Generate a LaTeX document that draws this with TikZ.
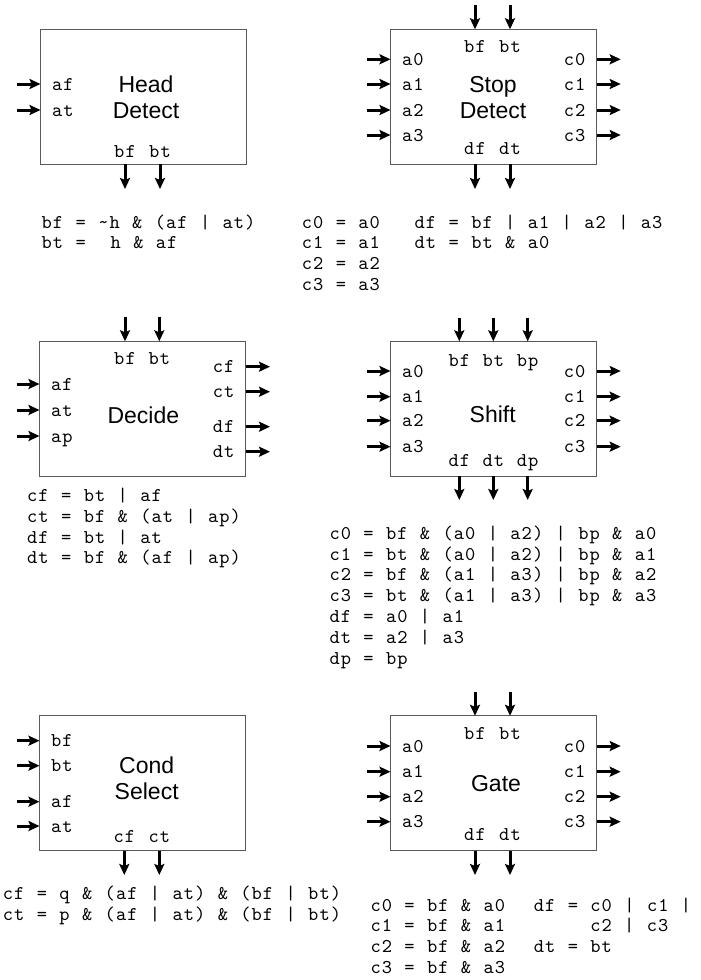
\documentclass[tikz,border=0pt]{standalone}
\usepackage{fontspec}
\setmainfont{Liberation Sans}
\newfontfamily\monofont{lmmono10-regular.otf}[LetterSpace=5.33, WordSpace={1.10,0,0}]
\usetikzlibrary{arrows.meta}
\tikzset{
  blk/.style={draw=black!65, line width=1.2pt, minimum width=206pt, minimum height=135pt, inner sep=0pt, outer sep=0pt},
  arr/.style={line width=3pt, -{Stealth[length=11pt,width=10pt,inset=2pt]}},
  lbl/.style={font=\monofont\fontsize{19.5}{20.8}\selectfont, inner sep=0pt, text height=12pt, text depth=0pt},
  eq/.style={lbl, anchor=west},
  ttl/.style={font=\fontsize{23}{27}\selectfont, inner sep=0pt, text height=16pt, text depth=0pt},
}
\begin{document}
\begin{tikzpicture}[x=1pt,y=-1pt]
\useasboundingbox (0,0) rectangle (701,980);

% ---------------- Head Detect ----------------
\node[blk] (HD) at (143.5,96.8) {};
\foreach \p/\y in {af/84, at/110} {
  \coordinate (HDi\p) at (16.7,\y);
  \draw[arr] (HDi\p) -- (HDi\p -| HD.west);
  \node[lbl,anchor=west] (HDl\p) at ([xshift=11.5pt]HDi\p -| HD.west) {\p};
}
\node[ttl] (HDt1) at (146,84) {Head};
\node[ttl] (HDt2) at (146,110) {Detect};
\foreach \p/\x in {bf/125, bt/160} {
  \coordinate (HDo\p) at (\x,189);
  \draw[arr] (HDo\p |- HD.south) -- (HDo\p);
  \node[lbl] (HDb\p) at (\x,151) {\p};
}
\foreach \q [count=\i] in {{bf = \textasciitilde h \& (af | at)},{bt =\ \ h \& af}}
  \node[eq] (HDe\i) at (41.5,{222+20.8*(\i-1)}) {\q};

% ---------------- Stop Detect ----------------
\node[blk] (SD) at (493.5,96.8) {};
\foreach \p/\x in {bf/475, bt/510} {
  \coordinate (SDs\p) at (\x,5);
  \draw[arr] (SDs\p) -- (SDs\p |- SD.north);
  \node[lbl] (SDt\p) at (\x,46.7) {\p};
}
\foreach \p/\y in {0/59.3,1/84,2/110,3/135} {
  \coordinate (SDa\p) at (366.7,\y);
  \draw[arr] (SDa\p) -- (SDa\p -| SD.west);
  \node[lbl,anchor=west] (SDla\p) at ([xshift=11.5pt]SDa\p -| SD.west) {a\p};
  \coordinate (SDc\p) at (620.7,\y);
  \draw[arr] (SDc\p -| SD.east) -- (SDc\p);
  \node[lbl,anchor=east] (SDlc\p) at ([xshift=-11pt]SDc\p -| SD.east) {c\p};
}
\node[ttl] (SDt1) at (493,84) {Stop};
\node[ttl] (SDt2) at (493,110) {Detect};
\foreach \p/\x in {df/475, dt/510} {
  \coordinate (SDo\p) at (\x,189);
  \draw[arr] (SDo\p |- SD.south) -- (SDo\p);
  \node[lbl] (SDb\p) at (\x,148.3) {\p};
}
\foreach \q [count=\i] in {{c0 = a0},{c1 = a1},{c2 = a2},{c3 = a3}}
  \node[eq] (SDe\i) at (301.7,{222+20.8*(\i-1)}) {\q};
\foreach \q [count=\i] in {{df = bf | a1 | a2 | a3},{dt = bt \& a0}}
  \node[eq] (SDf\i) at (414.5,{222+20.8*(\i-1)}) {\q};

% ---------------- Decide ----------------
\node[blk] (DE) at (142.5,408.8) {};
\foreach \p/\x in {bf/125, bt/159.3} {
  \coordinate (DEs\p) at (\x,316.7);
  \draw[arr] (DEs\p) -- (DEs\p |- DE.north);
  \node[lbl] (DEt\p) at (\x,358.3) {\p};
}
\foreach \p/\y in {af/384, at/410, ap/436} {
  \coordinate (DEi\p) at (16.7,\y);
  \draw[arr] (DEi\p) -- (DEi\p -| DE.west);
  \node[lbl,anchor=west] (DEl\p) at ([xshift=11.5pt]DEi\p -| DE.west) {\p};
}
\foreach \p/\y in {cf/366.7, ct/391.7, df/426.7, dt/451.7} {
  \coordinate (DEo\p) at (270,\y);
  \draw[arr] (DEo\p -| DE.east) -- (DEo\p);
  \node[lbl,anchor=east] (DEr\p) at ([xshift=-11pt]DEo\p -| DE.east) {\p};
}
\node[ttl] (DEt1) at (143.3,415) {Decide};
\foreach \q [count=\i] in {{cf = bt | af},{ct = bf \& (at | ap)},{df = bt | at},{dt = bf \& (af | ap)}}
  \node[eq] (DEe\i) at (27,{495.5+20.8*(\i-1)}) {\q};

% ---------------- Shift ----------------
\node[blk] (SH) at (493.5,408.8) {};
\foreach \p/\x in {bf/459.3, bt/493.3, bp/527.7} {
  \coordinate (SHs\p) at (\x,318.3);
  \draw[arr] (SHs\p) -- (SHs\p |- SH.north);
  \node[lbl] (SHt\p) at (\x,360) {\p};
}
\foreach \p/\y in {0/371,1/396.7,2/420.7,3/446.7} {
  \coordinate (SHa\p) at (366.7,\y);
  \draw[arr] (SHa\p) -- (SHa\p -| SH.west);
  \node[lbl,anchor=west] (SHla\p) at ([xshift=11.5pt]SHa\p -| SH.west) {a\p};
  \coordinate (SHc\p) at (620.7,\y);
  \draw[arr] (SHc\p -| SH.east) -- (SHc\p);
  \node[lbl,anchor=east] (SHlc\p) at ([xshift=-11pt]SHc\p -| SH.east) {c\p};
}
\node[ttl] (SHt1) at (492.7,414) {Shift};
\foreach \p/\x in {df/459.3, dt/493.3, dp/527.7} {
  \coordinate (SHo\p) at (\x,500);
  \draw[arr] (SHo\p |- SH.south) -- (SHo\p);
  \node[lbl] (SHb\p) at (\x,460.7) {\p};
}
\foreach \q [count=\i] in {{c0 = bf \& (a0 | a2) | bp \& a0},{c1 = bt \& (a0 | a2) | bp \& a1},{c2 = bf \& (a1 | a3) | bp \& a2},{c3 = bt \& (a1 | a3) | bp \& a3},{df = a0 | a1},{dt = a2 | a3},{dp = bp}}
  \node[eq] (SHe\i) at (329.3,{533.3+20.8*(\i-1)}) {\q};

% ---------------- Cond Select ----------------
\node[blk] (CS) at (142.5,783.3) {};
\foreach \p/\y in {bf/740.7, bt/765.7, af/801.7, at/826} {
  \coordinate (CSi\p) at (16.7,\y);
  \draw[arr] (CSi\p) -- (CSi\p -| CS.west);
  \node[lbl,anchor=west] (CSl\p) at ([xshift=11.5pt]CSi\p -| CS.west) {\p};
}
\node[ttl] (CSt1) at (146.7,765) {Cond};
\node[ttl] (CSt2) at (146.7,791.7) {Select};
\foreach \p/\x in {cf/124.3, ct/159.3} {
  \coordinate (CSo\p) at (\x,875);
  \draw[arr] (CSo\p |- CS.south) -- (CSo\p);
  \node[lbl] (CSb\p) at (\x,836.7) {\p};
}
\foreach \q [count=\i] in {{cf = q \& (af | at) \& (bf | bt)},{ct = p \& (af | at) \& (bf | bt)}}
  \node[eq] (CSe\i) at (2.7,{893.3+20.8*(\i-1)}) {\q};

% ---------------- Gate ----------------
\node[blk] (GA) at (493.5,783.3) {};
\foreach \p/\x in {bf/475, bt/510} {
  \coordinate (GAs\p) at (\x,691.7);
  \draw[arr] (GAs\p) -- (GAs\p |- GA.north);
  \node[lbl] (GAt\p) at (\x,733.3) {\p};
}
\foreach \p/\y in {0/746,1/771.7,2/796.7,3/821.7} {
  \coordinate (GAa\p) at (366.7,\y);
  \draw[arr] (GAa\p) -- (GAa\p -| GA.west);
  \node[lbl,anchor=west] (GAla\p) at ([xshift=11.5pt]GAa\p -| GA.west) {a\p};
  \coordinate (GAc\p) at (620.7,\y);
  \draw[arr] (GAc\p -| GA.east) -- (GAc\p);
  \node[lbl,anchor=east] (GAlc\p) at ([xshift=-11pt]GAc\p -| GA.east) {c\p};
}
\node[ttl] (GAt1) at (496,783.3) {Gate};
\foreach \p/\x in {df/475, dt/510} {
  \coordinate (GAo\p) at (\x,875);
  \draw[arr] (GAo\p |- GA.south) -- (GAo\p);
  \node[lbl] (GAb\p) at (\x,834.3) {\p};
}
\foreach \q [count=\i] in {{c0 = bf \& a0},{c1 = bf \& a1},{c2 = bf \& a2},{c3 = bf \& a3}}
  \node[eq] (GAe\i) at (370.3,{905+20.8*(\i-1)}) {\q};
\foreach \q [count=\i] in {{df = c0 | c1 |},{\hspace*{56.4pt}c2 | c3},{dt = bt}}
  \node[eq] (GAf\i) at (533.7,{905+20.8*(\i-1)}) {\q};
\end{tikzpicture}
\end{document}
